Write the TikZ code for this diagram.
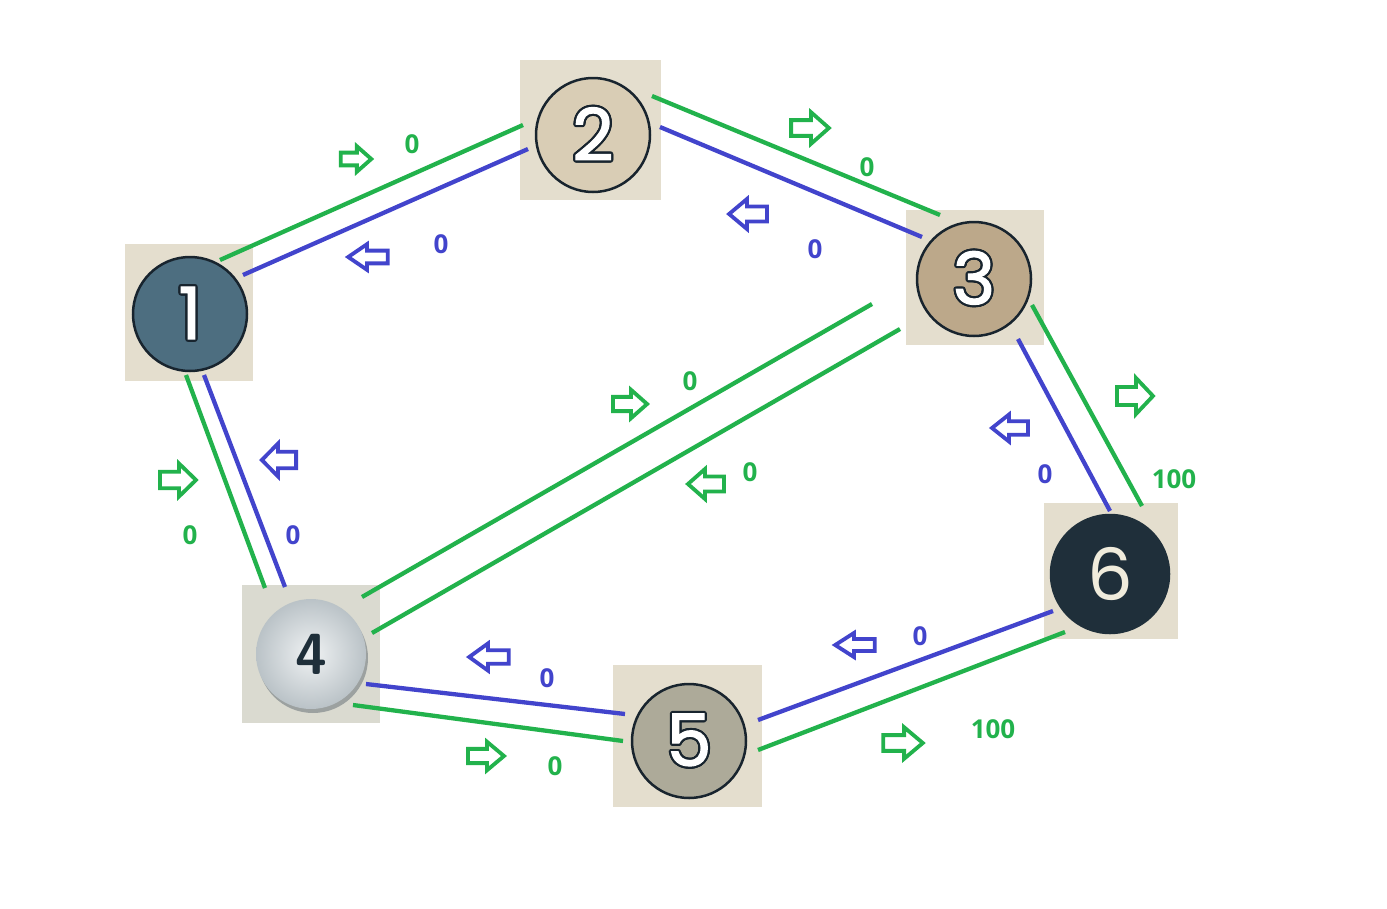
\documentclass[tikz,border=0pt]{standalone}
\usepackage{fontspec}
\setmainfont{Open Sans}
\newfontfamily\numfont{Poppins}[FakeBold=1.6]
\newfontfamily\numfontl{Poppins}
\usepackage[copies]{contour}
\contourlength{2.2pt}
\definecolor{cgreen}{RGB}{34,178,76}
\definecolor{cblue}{RGB}{66,68,204}
\definecolor{beige}{RGB}{228,222,206}
\definecolor{beigeg}{RGB}{218,218,208}
\definecolor{cfill1}{RGB}{77,110,128}
\definecolor{cfill2}{RGB}{217,205,181}
\definecolor{cfill3}{RGB}{188,168,138}
\definecolor{cfill4}{RGB}{204,212,216}
\definecolor{cfill5}{RGB}{173,170,153}
\definecolor{cfill6}{RGB}{31,47,58}
\definecolor{cedge}{RGB}{24,36,46}
\definecolor{cream}{RGB}{240,236,220}
\tikzset{
  sqbox/.style={fill=beige, draw=none, inner sep=0pt},
  disc/.style={circle, draw=cedge, line width=2.5pt, minimum size=114pt, inner sep=0pt, font=\numfont\fontsize{72}{72}\selectfont},
  gline/.style={draw=cgreen, line width=4.3pt},
  bline/.style={draw=cblue, line width=4.3pt},
  glab/.style={text=cgreen, font=\bfseries\fontsize{26}{26}\selectfont, inner sep=0pt},
  blab/.style={text=cblue, font=\bfseries\fontsize{26}{26}\selectfont, inner sep=0pt},
  blockarrow/.pic={\draw[pic actions, line width=3.8pt, line join=miter]
     (-18,-7.5)--(1,-7.5)--(1,-15)--(18,0)--(1,15)--(1,7.5)--(-18,7.5)--cycle;},
}
\begin{document}
\begin{tikzpicture}[x=1pt,y=-1pt]
\useasboundingbox[fill=white] (0,0) rectangle (1387,908);
% squares
\node[sqbox, minimum width=128pt, minimum height=137pt] (s1) at (189,312) {};
\node[sqbox, minimum width=141pt, minimum height=140pt] (s2) at (590,130) {};
\node[sqbox, minimum width=138pt, minimum height=135pt] (s3) at (975,277) {};
\node[sqbox, fill=beigeg, minimum width=138pt, minimum height=138pt] (s4) at (311,654) {};
\node[sqbox, minimum width=149pt, minimum height=142pt] (s5) at (687,736) {};
\node[sqbox, minimum width=134pt, minimum height=136pt] (s6) at (1111,571) {};
% discs
\node[disc, fill=cfill1] (n1) at (190,314) {\contour{cedge}{\textcolor{white}{1}}};
\node[disc, fill=cfill2] (n2) at (593,135) {\contour{cedge}{\textcolor{white}{2}}};
\node[disc, fill=cfill3] (n3) at (974,279) {\contour{cedge}{\textcolor{white}{3}}};
\fill[cedge!60!cfill4, opacity=0.5] (313,658) circle[radius=55pt];
\node[disc, draw=none, inner color=white!70!cfill4, outer color=cfill4!90!cedge, minimum size=110pt, font=\sffamily\bfseries\fontsize{58}{58}\selectfont, text=cfill6] (n4) at (311,654) {4};
\node[disc, fill=cfill5] (n5) at (689,741) {\contour{cedge}{\textcolor{white}{5}}};
\node[disc, fill=cfill6, draw=cfill6, minimum size=118pt, text=cream, font=\numfontl\fontsize{72}{72}\selectfont] (n6) at (1110,574) {6};
% endpoints
\coordinate (a12g) at (220,260); \coordinate (b12g) at (523,125);
\coordinate (a12b) at (243,275); \coordinate (b12b) at (528,149);
\coordinate (a23g) at (652,96);  \coordinate (b23g) at (940,215);
\coordinate (a23b) at (660,127); \coordinate (b23b) at (922,237);
\coordinate (a34g) at (872,304); \coordinate (b34g) at (362,597);
\coordinate (a34h) at (900,329); \coordinate (b34h) at (372,633);
\coordinate (a14g) at (186,375); \coordinate (b14g) at (265,588);
\coordinate (a14b) at (204,375); \coordinate (b14b) at (285,587);
\coordinate (a45b) at (366,684); \coordinate (b45b) at (625,714);
\coordinate (a45g) at (353,705); \coordinate (b45g) at (623,741);
\coordinate (a56b) at (758,720); \coordinate (b56b) at (1053,611);
\coordinate (a56g) at (758,750); \coordinate (b56g) at (1065,632);
\coordinate (a36g) at (1032,305); \coordinate (b36g) at (1142,506);
\coordinate (a36b) at (1018,339); \coordinate (b36b) at (1110,511);
% connectors
\draw[gline] (a12g) -- (b12g);
\draw[bline] (a12b) -- (b12b);
\draw[gline] (a23g) -- (b23g);
\draw[bline] (a23b) -- (b23b);
\draw[gline] (a34g) -- (b34g);
\draw[gline] (a34h) -- (b34h);
\draw[gline] (a14g) -- (b14g);
\draw[bline] (a14b) -- (b14b);
\draw[bline] (a45b) -- (b45b);
\draw[gline] (a45g) -- (b45g);
\draw[bline] (a56b) -- (b56b);
\draw[gline] (a56g) -- (b56g);
\draw[gline] (a36g) -- (b36g);
\draw[bline] (a36b) -- (b36b);
% direction arrows
\pic[draw=cgreen, scale=0.85] at (356,159) {blockarrow};
\pic[draw=cblue, xscale=-1.1, yscale=0.85] at (368,257) {blockarrow};
\pic[draw=cgreen, xscale=1.05, yscale=1.05] at (810,128) {blockarrow};
\pic[draw=cblue, xscale=-1.05] at (748,214) {blockarrow};
\pic[draw=cgreen, scale=0.95] at (630,404) {blockarrow};
\pic[draw=cgreen, xscale=-1] at (706,484) {blockarrow};
\pic[draw=cgreen, yscale=1.2] at (1135,396) {blockarrow};
\pic[draw=cblue, xscale=-1, yscale=0.9] at (1010,428) {blockarrow};
\pic[draw=cgreen, xscale=1.0, yscale=1.1] at (178,480) {blockarrow};
\pic[draw=cblue, xscale=-0.95, yscale=1.1] at (279,460) {blockarrow};
\pic[draw=cblue, xscale=-1.1, yscale=0.9] at (489,657) {blockarrow};
\pic[draw=cgreen, yscale=0.95] at (486,756) {blockarrow};
\pic[draw=cblue, xscale=-1.1, yscale=0.8] at (855,645) {blockarrow};
\pic[draw=cgreen, xscale=1.1, yscale=1.05] at (903,743) {blockarrow};
% labels
\node[glab] (l12g) at (412,144) {0};
\node[blab] (l12b) at (441,244) {0};
\node[glab] (l23g) at (867,167) {0};
\node[blab] (l23b) at (815,249) {0};
\node[glab] (l34g) at (690,381) {0};
\node[glab] (l34h) at (750,472) {0};
\node[glab] (l36g) at (1174,479) {100};
\node[blab] (l36b) at (1045,474) {0};
\node[glab] (l14g) at (190,535) {0};
\node[blab] (l14b) at (293,535) {0};
\node[blab] (l45b) at (547,678) {0};
\node[glab] (l45g) at (555,766) {0};
\node[blab] (l56b) at (920,636) {0};
\node[glab] (l56g) at (993,729) {100};
\end{tikzpicture}
\end{document}
